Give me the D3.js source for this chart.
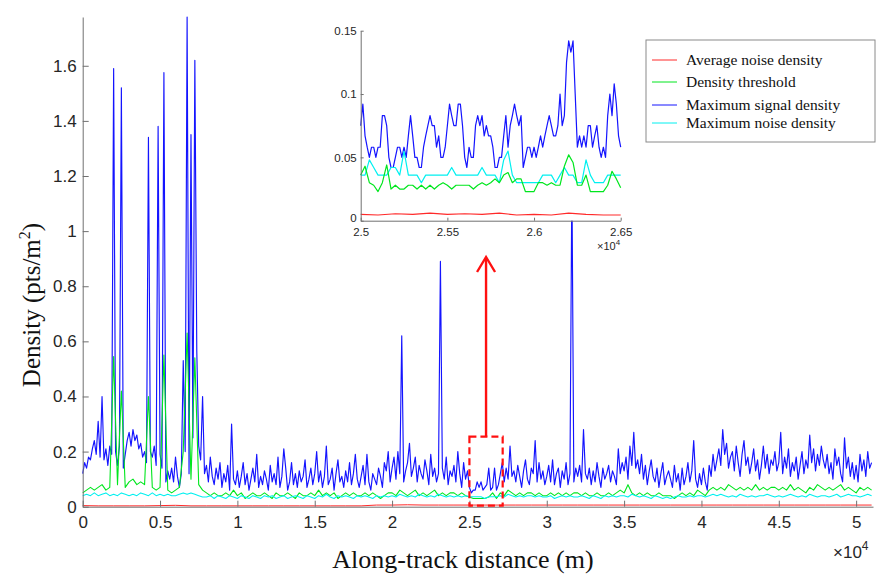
<!DOCTYPE html>
<html>
<head>
<meta charset="utf-8">
<script src="https://cdn.jsdelivr.net/npm/d3@7/dist/d3.min.js"></script>
<style>
  html, body { margin: 0; padding: 0; background: #fff; }
  svg { display: block; }
  .tick text { font-family: Arial, "Liberation Sans", Helvetica, sans-serif; fill: #262626; }
</style>
</head>
<body>
<svg id="chart" width="876" height="576"></svg>
<script>
// ---- Along-track densities (pts/m^2) ----
// Maximum signal density, sampled every 125 m from 0 m
const signalStep = 125;
const maxSignal = [
  .12,.16,.14,.18,.17,.21,.24,.19,
  .31,.18,.40,.17,.21,.15,.22,.19,
  1.59,.20,.15,.22,1.52,.14,.19,.24,
  .27,.22,.28,.24,.26,.21,.23,.18,
  .20,.16,1.34,.20,.18,.22,.15,1.38,
  .19,.14,1.575,.09,.13,.10,.14,.09,
  .18,.11,.07,.12,.53,.20,1.777,.12,
  1.35,.25,1.62,.565,.22,.17,.40,.12,
  .15,.09,.18,.11,.08,.14,.10,.16,
  .07,.12,.09,.15,.06,.30,.10,.08,
  .13,.07,.11,.16,.08,.12,.06,.10,
  .14,.09,.19,.07,.11,.08,.13,.10,
  .06,.15,.09,.12,.08,.18,.07,.11,
  .21,.14,.06,.09,.16,.08,.12,.07,
  .13,.09,.11,.17,.07,.10,.14,.08,
  .12,.20,.09,.13,.07,.11,.22,.08,
  .10,.14,.06,.12,.17,.09,.11,.07,
  .13,.09,.16,.08,.12,.19,.10,.07,
  .11,.15,.08,.19,.09,.06,.12,.10,
  .08,.14,.11,.07,.16,.13,.20,.09,
  .14,.18,.10,.20,.12,.62,.09,.13,
  .16,.23,.11,.14,.18,.09,.15,.12,
  .10,.17,.13,.08,.19,.11,.14,.09,
  .12,.89,.14,.10,.18,.08,.13,.11,
  .15,.09,.20,.12,.07,.16,.10,.13,
  .07,.05,.06,.06,.09,.07,.09,.06,
  .07,.08,.14,.06,.07,.14,.06,.08,
  .12,.16,.09,.14,.10,.22,.11,.13,
  .09,.15,.11,.07,.13,.17,.10,.08,
  .14,.12,.24,.09,.16,.10,.13,.08,
  .11,.15,.09,.17,.08,.12,.14,.07,
  .13,.10,.16,.08,.12,1.2,.09,.14,
  .11,.15,.09,.28,.12,.10,.14,.08,
  .13,.09,.16,.11,.07,.14,.10,.12,
  .15,.09,.13,.11,.08,.21,.12,.16,
  .13,.18,.10,.22,.15,.27,.14,.17,
  .12,.19,.10,.15,.08,.13,.17,.11,
  .09,.14,.07,.12,.16,.08,.11,.13,
  .10,.07,.15,.09,.12,.06,.14,.08,
  .11,.16,.09,.13,.24,.10,.07,.12,
  .08,.14,.09,.06,.15,.11,.19,.13,
  .17,.21,.15,.28,.19,.23,.14,.18,
  .20,.13,.22,.16,.11,.19,.24,.15,
  .18,.12,.16,.21,.13,.17,.10,.15,
  .22,.14,.19,.12,.17,.15,.20,.13,
  .16,.27,.12,.18,.14,.21,.11,.16,
  .13,.18,.10,.15,.20,.12,.17,.14,
  .26,.16,.21,.13,.19,.15,.22,.17,
  .14,.19,.12,.16,.10,.21,.15,.18,
  .12,.09,.25,.14,.18,.11,.16,.10,
  .15,.09,.19,.13,.17,.11,.20,.14,
  .16
];

// Density threshold and maximum noise density, every 250 m
const noiseStep = 250;
const threshold = [
  .05,.06,.07,.06, .07,.08,.06,.07, .545,.08,.42,.07, .09,.10,.08,.09,
  .08,.40,.07,.06, .07,.55,.06,.05, .06,.07,.20,.63, .10,.54,.08,.06,
  .05,.04,.05,.04, .04,.05,.04,.06, .04,.05,.03,.04, .05,.04,.04,.05,
  .04,.03,.05,.04, .04,.05,.04,.03, .05,.04,.04,.05, .04,.06,.04,.05,
  .04,.05,.03,.04, .05,.04,.05,.04, .04,.05,.04,.05, .04,.03,.04,.05,
  .05,.04,.06,.05, .04,.05,.06,.04, .05,.04,.05,.06, .04,.05,.04,.05,
  .05,.04,.05,.04, .035,.03,.03,.03, .03,.035,.05,.03, .05,.04,.06,.05,
  .04,.05,.04,.05, .05,.04,.05,.04, .04,.05,.04,.05, .04,.05,.04,.05,
  .05,.04,.05,.04, .04,.05,.04,.04, .05,.04,.05,.06, .05,.08,.05,.04,
  .05,.04,.05,.04, .04,.05,.04,.04, .04,.03,.04,.05, .04,.05,.04,.06,
  .05,.04,.06,.07, .06,.07,.06,.08, .07,.06,.07,.06, .07,.06,.08,.06,
  .07,.06,.07,.07, .06,.07,.06,.08, .06,.07,.06,.05, .07,.06,.08,.07,
  .06,.07,.06,.07, .08,.06,.07,.06, .05,.07,.06,.07, .06
];
const maxNoise = [
  .04,.045,.04,.05, .04,.045,.05,.04, .045,.04,.05,.045, .04,.045,.04,.05,
  .045,.04,.05,.04, .045,.04,.045,.04, .04,.045,.05,.045, .05,.045,.04,.035,
  .035,.04,.03,.04, .035,.03,.04,.035, .03,.04,.035,.03, .04,.035,.03,.04,
  .035,.04,.03,.035, .04,.03,.035,.04, .035,.03,.04,.035, .03,.04,.035,.045,
  .035,.03,.04,.035, .04,.035,.03,.04, .035,.04,.035,.03, .04,.035,.04,.035,
  .04,.035,.045,.04, .035,.04,.035,.045, .04,.035,.04,.035, .045,.04,.035,.04,
  .035,.04,.035,.04, .036,.036,.036,.036, .03,.036,.036,.036, .04,.035,.045,.04,
  .035,.04,.035,.04, .04,.035,.04,.035, .035,.04,.03,.035, .04,.035,.04,.035,
  .035,.04,.035,.03, .04,.035,.03,.04, .035,.04,.035,.04, .04,.035,.045,.04,
  .035,.04,.035,.03, .04,.035,.03,.035, .03,.035,.04,.035, .035,.04,.035,.04,
  .04,.035,.04,.045, .04,.045,.04,.035, .04,.035,.045,.04, .035,.04,.035,.04,
  .04,.045,.04,.035, .04,.035,.04,.045, .04,.035,.04,.035, .045,.04,.035,.04,
  .04,.035,.04,.045, .035,.04,.045,.04, .04,.035,.04,.045, .04
];

// Average noise density, every 1000 m
const avgStep = 1000;
const avgNoise = [
  .004,.003,.003,.003,.003,.004,.005,.003,.003,.003,.003,.003,.003,
  .003,.003,.003,.003,.003,.003,.006,.006,.007,.006,.006,.006,.006,
  .006,.006,.006,.006,.006,.006,.006,.006,.006,.006,.006,.006,.006,
  .006,.006,.006,.006,.006,.006,.006,.006,.006,.006,.006,.006,.006
];

// ---- Zoomed window 25 000 – 26 500 m ----
const zoomStart = 25000;
const zoomSignalStep = 12.5;
const zoomSignal = [
  .075,.092,.067,.058,.05,.058,.058,.05,.058,.058,
  .083,.083,.075,.05,.042,.042,.05,.058,.058,.05,
  .058,.05,.067,.083,.067,.05,.05,.042,.042,.058,
  .067,.075,.083,.075,.075,.058,.067,.05,.05,.058,
  .075,.092,.083,.075,.075,.092,.092,.075,.05,.042,
  .058,.05,.05,.075,.083,.075,.083,.067,.075,.067,
  .067,.058,.042,.042,.05,.05,.067,.083,.058,.075,
  .083,.092,.083,.075,.083,.042,.05,.058,.058,.05,
  .058,.05,.058,.067,.058,.067,.075,.083,.075,.067,
  .067,.075,.1,.075,.083,.125,.142,.133,.142,.1,
  .058,.067,.058,.067,.058,.075,.075,.058,.067,.075,
  .058,.05,.058,.05,.083,.1,.083,.108,.092,.067,
  .058
];
const zoomNoiseStep = 25;
const zoomNoise = [
  .036,.036,.048,.042,.036,.036,.036,.042,.042,.036,
  .055,.036,.036,.036,.03,.036,.036,.036,.036,.036,
  .036,.042,.036,.036,.036,.036,.036,.036,.042,.036,
  .036,.036,.03,.048,.055,.036,.03,.03,.03,.03,
  .03,.03,.036,.036,.036,.03,.036,.042,.036,.036,
  .03,.03,.048,.036,.03,.03,.03,.036,.036,.036,
  .036
];
const zoomThreshold = [
  .036,.043,.03,.028,.023,.03,.044,.025,.028,.025,
  .025,.028,.028,.025,.028,.025,.028,.025,.028,.03,
  .028,.025,.028,.028,.028,.028,.025,.028,.03,.028,
  .03,.033,.03,.036,.038,.03,.033,.033,.023,.023,
  .023,.03,.03,.028,.03,.028,.028,.043,.052,.046,
  .028,.028,.036,.023,.023,.023,.023,.028,.039,.033,
  .026
];
const zoomAvgStep = 100;
const zoomAvg = [
  .005,.0045,.0055,.005,.006,.005,.0055,.005,
  .006,.0045,.005,.0045,.006,.005,.0045,.0045
];

// ---- Ticks and legend ----
const xTickValues = [0,5000,10000,15000,20000,25000,30000,35000,40000,45000,50000];
const xTickLabels = ["0","0.5","1","1.5","2","2.5","3","3.5","4","4.5","5"];
const yTickValues = [0,0.2,0.4,0.6,0.8,1,1.2,1.4,1.6];
const yTickLabels = ["0","0.2","0.4","0.6","0.8","1","1.2","1.4","1.6"];
const zoomXTickValues = [25000,25500,26000,26500];
const zoomXTickLabels = ["2.5","2.55","2.6","2.65"];
const zoomYTickValues = [0,0.05,0.1,0.15];
const zoomYTickLabels = ["0","0.05","0.1","0.15"];
const seriesNames = ["Average noise density","Density threshold","Maximum signal density","Maximum noise density"];
const seriesColors = ["#ff2a2a","#00e61e","#1414ff","#00f0f0"];

// ---- Drawing ----
const svg = d3.select("#chart");
const serif = '"Palatino Linotype","Book Antiqua",Palatino,"Liberation Serif","DejaVu Serif",serif';
const sans = 'Arial,"Liberation Sans",Helvetica,sans-serif';
const axisGrey = "#707070";

const x = d3.scaleLinear().domain([0, 51090]).range([82.7, 873]);
const y = d3.scaleLinear().domain([0, 1.777]).range([506.7, 17]);

function toPoints(values, step, start = 0) {
  return values.map((v, i) => [start + i * step, v]);
}

const mainLine = d3.line().x(d => x(d[0])).y(d => y(d[1]));

const plot = svg.append("g");
const mainSeries = [
  {data: toPoints(maxSignal, signalStep), color: seriesColors[2], w: 1.15},
  {data: toPoints(threshold, noiseStep), color: seriesColors[1], w: 1.1},
  {data: toPoints(maxNoise, noiseStep), color: seriesColors[3], w: 1.1},
  {data: toPoints(avgNoise, avgStep), color: seriesColors[0], w: 1}
];
plot.selectAll("path.series").data(mainSeries).join("path")
  .attr("class", "series")
  .attr("fill", "none")
  .attr("stroke", d => d.color)
  .attr("stroke-width", d => d.w)
  .attr("stroke-linejoin", "round")
  .attr("d", d => mainLine(d.data));

// Main axes (ticks point inward)
const xAxis = d3.axisBottom(x).tickValues(xTickValues)
  .tickFormat((d, i) => xTickLabels[i]).tickSizeInner(-6).tickSizeOuter(0).tickPadding(9);
const yAxis = d3.axisLeft(y).tickValues(yTickValues)
  .tickFormat((d, i) => yTickLabels[i]).tickSizeInner(-6).tickSizeOuter(0).tickPadding(6);

const gx = svg.append("g").attr("transform", `translate(0,${y(0)})`).call(xAxis);
const gy = svg.append("g").attr("transform", `translate(${x(0)},0)`).call(yAxis);
[gx, gy].forEach(g => {
  g.select(".domain").attr("stroke", axisGrey);
  g.selectAll(".tick line").attr("stroke", axisGrey);
  g.selectAll(".tick text").attr("font-size", 17).attr("font-family", sans).attr("fill", "#262626");
});

// x10^4 exponent label
const xExp = svg.append("text").attr("x", 833).attr("y", 558)
  .attr("font-family", sans).attr("font-size", 17).attr("fill", "#262626");
xExp.append("tspan").text("\u00d710");
xExp.append("tspan").attr("dy", -8).attr("font-size", 12).text("4");

// Axis titles
svg.append("text").attr("x", 463).attr("y", 568).attr("text-anchor", "middle")
  .attr("font-family", serif).attr("font-size", 26).attr("fill", "#111")
  .text("Along-track distance (m)");
const yTitle = svg.append("text").attr("transform", "translate(40,305) rotate(-90)")
  .attr("text-anchor", "middle").attr("font-family", serif).attr("font-size", 25).attr("fill", "#111");
yTitle.append("tspan").text("Density (pts/m");
yTitle.append("tspan").attr("dy", -10).attr("font-size", 16).text("2");
yTitle.append("tspan").attr("dy", 10).text(")");

// Highlighted window and arrow
const boxX0 = 25000, boxX1 = 27150, boxTop = 0.254;
svg.append("rect")
  .attr("x", x(boxX0)).attr("y", y(boxTop))
  .attr("width", x(boxX1) - x(boxX0)).attr("height", y(0) - y(boxTop) - 1)
  .attr("fill", "none").attr("stroke", "#ff1010").attr("stroke-width", 2.2)
  .attr("stroke-dasharray", "7,4");
const arrowX = (x(boxX0) + x(boxX1)) / 2;
svg.append("line").attr("x1", arrowX).attr("x2", arrowX)
  .attr("y1", y(boxTop)).attr("y2", 258)
  .attr("stroke", "#ff1010").attr("stroke-width", 2.4);
svg.append("path")
  .attr("d", `M${arrowX - 9},${272} L${arrowX},${257} L${arrowX + 9},${272}`)
  .attr("fill", "none").attr("stroke", "#ff1010").attr("stroke-width", 2.4);

// ---- Zoomed inset ----
const ix = d3.scaleLinear().domain([25000, 26500]).range([360.7, 620.7]);
const iy = d3.scaleLinear().domain([0, 0.15]).range([220.7, 30.7]);
const inset = svg.append("g");
inset.append("rect").attr("x", 360.7).attr("y", 30.7)
  .attr("width", 260).attr("height", 190).attr("fill", "#fff");
const insetLine = d3.line().x(d => ix(d[0])).y(d => iy(d[1]));
const insetSeries = [
  {data: toPoints(zoomSignal, zoomSignalStep, zoomStart), color: seriesColors[2]},
  {data: toPoints(zoomNoise, zoomNoiseStep, zoomStart), color: seriesColors[3]},
  {data: toPoints(zoomThreshold, zoomNoiseStep, zoomStart), color: seriesColors[1]},
  {data: toPoints(zoomAvg, zoomAvgStep, zoomStart), color: seriesColors[0]}
];
inset.selectAll("path.zs").data(insetSeries).join("path")
  .attr("class", "zs").attr("fill", "none")
  .attr("stroke", d => d.color).attr("stroke-width", 1.2)
  .attr("stroke-linejoin", "round")
  .attr("d", d => insetLine(d.data));

const ixAxis = d3.axisBottom(ix).tickValues(zoomXTickValues)
  .tickFormat((d, i) => zoomXTickLabels[i]).tickSizeInner(-3).tickSizeOuter(0).tickPadding(7);
const iyAxis = d3.axisLeft(iy).tickValues(zoomYTickValues)
  .tickFormat((d, i) => zoomYTickLabels[i]).tickSizeInner(-3).tickSizeOuter(0).tickPadding(4);
const gix = inset.append("g").attr("transform", `translate(0,${iy(0)})`).call(ixAxis);
const giy = inset.append("g").attr("transform", `translate(${ix(25000)},0)`).call(iyAxis);
[gix, giy].forEach(g => {
  g.select(".domain").attr("stroke", axisGrey);
  g.selectAll(".tick line").attr("stroke", axisGrey);
  g.selectAll(".tick text").attr("font-size", 11.5).attr("font-family", sans).attr("fill", "#262626");
});
// keep the zero label of the value axis clear of the distance labels
giy.selectAll(".tick text").filter((d, i) => i === 0).attr("dy", "0.1em");
const iExp = inset.append("text").attr("x", 597).attr("y", 250)
  .attr("font-family", sans).attr("font-size", 11).attr("fill", "#262626");
iExp.append("tspan").text("\u00d710");
iExp.append("tspan").attr("dy", -5).attr("font-size", 8).text("4");

// ---- Legend ----
const legend = svg.append("g");
legend.append("rect").attr("x", 646).attr("y", 40).attr("width", 229).attr("height", 102)
  .attr("fill", "#fff").attr("stroke", "#8a8a8a").attr("stroke-width", 1);
const legendY = [60, 82, 105, 123];
const items = legend.selectAll("g.item").data(seriesNames).join("g")
  .attr("class", "item").attr("transform", (d, i) => `translate(0,${legendY[i]})`);
items.append("line").attr("x1", 652).attr("x2", 677).attr("y1", 0).attr("y2", 0)
  .attr("stroke", (d, i) => seriesColors[i]).attr("stroke-width", 1);
items.append("text").attr("x", 686).attr("y", 5)
  .attr("font-family", serif).attr("font-size", 15.5).attr("fill", "#111")
  .text(d => d);
</script>
</body>
</html>
